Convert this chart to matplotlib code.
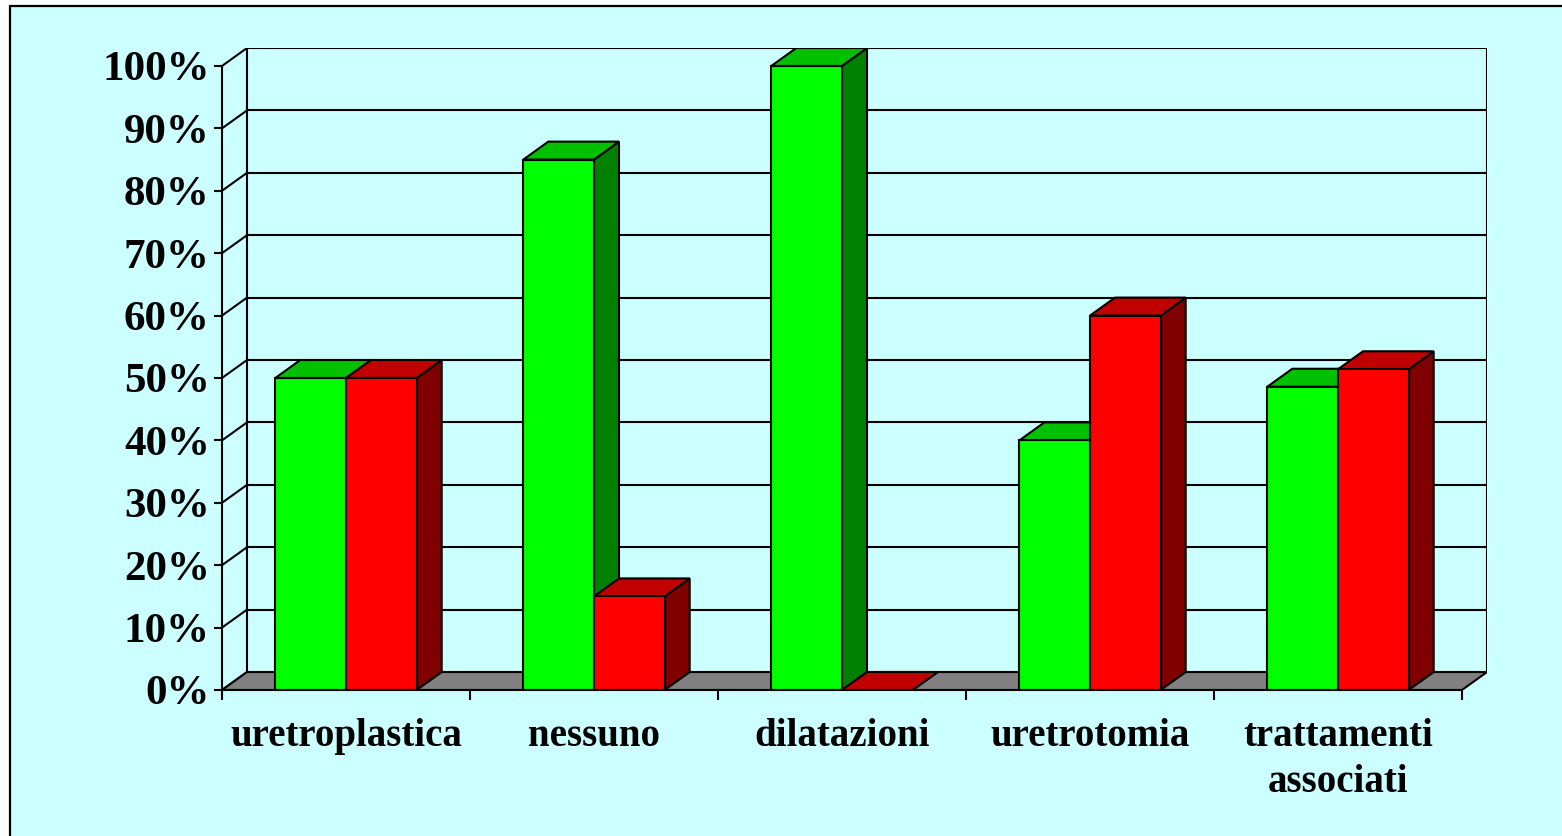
import matplotlib
matplotlib.use("Agg")
import matplotlib.pyplot as plt
from matplotlib.patches import Polygon, Rectangle

# ---- data ----
categories = ["uretroplastica", "nessuno", "dilatazioni", "uretrotomia", "trattamenti\nassociati"]
green_values = [50, 85, 100, 40, 48.6]
red_values = [50, 15, 0, 60, 51.4]
y_ticks = list(range(0, 101, 10))
y_tick_labels = [f"{v}%" for v in y_ticks]

# ---- style ----
BG = "#CCFFFF"
GREEN = ("#00FF00", "#00C000", "#008000")   # front, top, side
RED = ("#FF0000", "#C00000", "#800000")
FLOOR = "#808080"
LW = 1.5
FONT = "Liberation Serif"
BAR_W = 0.285
DX, DY = 25 / 248, 18 / 6.25   # depth offset in data units

W, H = 1562, 836
fig = plt.figure(figsize=(W / 100, H / 100), dpi=100)
fig.patch.set_facecolor("white")
fig.patches.append(Rectangle((10 / W, -0.05), 1.1, 1 - 6 / H + 0.05, transform=fig.transFigure,
                             facecolor=BG, edgecolor="black", lw=1.6, zorder=-10))

ax = fig.add_axes([222 / W, 146 / H, 1265 / W, 642 / H])
ax.set_zorder(5)
ax.patch.set_visible(False)
ax.set_xlim(-0.5, len(categories) - 0.5 + DX)
ax.set_ylim(0, 100 + DY)

x0w = -0.5 + DX
x1w = len(categories) - 0.5 + DX
# back wall gridlines + diagonals of the left wall
for v in y_ticks:
    ax.plot([x0w, x1w], [v + DY, v + DY], color="black", lw=LW, zorder=1, solid_capstyle="butt")
    ax.plot([-0.5, x0w], [v, v + DY], color="black", lw=LW, zorder=1)
ax.plot([x0w, x0w], [DY, 100 + DY], color="black", lw=LW, zorder=1)
ax.plot([x1w, x1w], [DY, 100 + DY], color="black", lw=LW, zorder=1)

# floor
ax.add_patch(Polygon([(-0.5, 0), (len(categories) - 0.5, 0), (x1w, DY), (x0w, DY)],
                     closed=True, facecolor=FLOOR, edgecolor="black", lw=LW, zorder=2))


def draw_box(x0, h, cols, z):
    front, top, side = cols
    ax.add_patch(Polygon([(x0 + BAR_W, 0), (x0 + BAR_W + DX, DY), (x0 + BAR_W + DX, h + DY), (x0 + BAR_W, h)],
                         closed=True, facecolor=side, edgecolor="black", lw=LW, zorder=z, joinstyle="miter"))
    ax.add_patch(Polygon([(x0, h), (x0 + BAR_W, h), (x0 + BAR_W + DX, h + DY), (x0 + DX, h + DY)],
                         closed=True, facecolor=top, edgecolor="black", lw=LW, zorder=z, joinstyle="miter"))
    if h > 0:
        ax.add_patch(Rectangle((x0, 0), BAR_W, h, facecolor=front, edgecolor="black", lw=LW, zorder=z,
                               joinstyle="miter"))


for i, (g, r) in enumerate(zip(green_values, red_values)):
    draw_box(i - BAR_W, g, GREEN, 3 + 2 * i)
    draw_box(i, r, RED, 4 + 2 * i)

# axes / ticks
for s in ["top", "right"]:
    ax.spines[s].set_visible(False)
ax.spines["left"].set_bounds(0, 100)
ax.spines["bottom"].set_bounds(-0.5, len(categories) - 0.5)
for s in ["left", "bottom"]:
    ax.spines[s].set_linewidth(LW)
    ax.spines[s].set_zorder(20)

ax.set_yticks(y_ticks)
ax.set_yticklabels(y_tick_labels, fontsize=31, fontweight="bold", family=FONT)
ax.tick_params(axis="y", length=5.8, width=LW, direction="out", pad=3)

ax.set_xticks([i - 0.5 for i in range(len(categories) + 1)])
ax.set_xticklabels([""] * (len(categories) + 1))
ax.tick_params(axis="x", which="major", length=7.5, width=LW, direction="out")
ax.set_xticks(range(len(categories)), minor=True)
ax.set_xticklabels(categories, minor=True, fontsize=28, fontweight="bold", family=FONT, linespacing=1.33)
ax.tick_params(axis="x", which="minor", length=0, pad=20)

fig.savefig("out.png", dpi=100, facecolor=fig.get_facecolor())
